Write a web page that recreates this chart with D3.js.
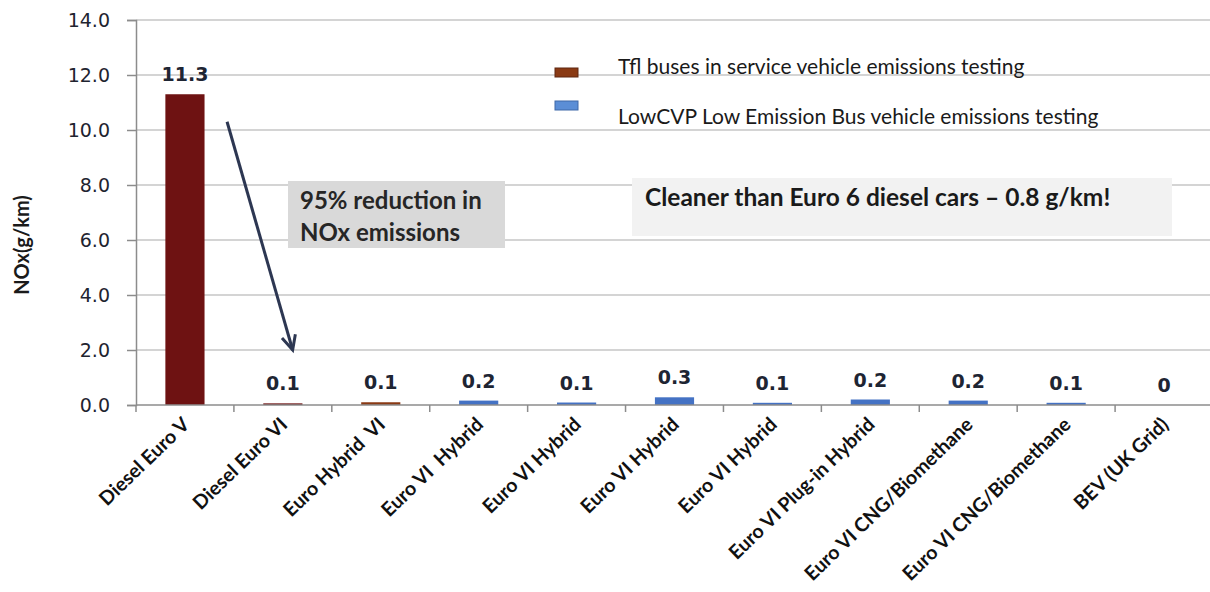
<!DOCTYPE html>
<html>
<head>
<meta charset="utf-8">
<script src="https://cdn.jsdelivr.net/npm/d3@7"></script>
<style>
  body { margin: 0; background: #fff; }
  svg { display: block; }
</style>
</head>
<body>
<div id="chart"></div>
<script>
// chart data
const categories = ['Diesel Euro V', 'Diesel Euro VI', 'Euro Hybrid  VI', 'Euro VI  Hybrid', 'Euro VI Hybrid',
    'Euro VI Hybrid', 'Euro VI Hybrid', 'Euro VI Plug-in Hybrid', 'Euro VI CNG/Biomethane',
    'Euro VI CNG/Biomethane', 'BEV (UK Grid)'];
const noxValues = [11.3, 0.06, 0.1, 0.16, 0.09, 0.28, 0.08, 0.2, 0.16, 0.08, 0];
const testSource = ['TfL', 'TfL', 'TfL', 'LowCVP', 'LowCVP', 'LowCVP', 'LowCVP', 'LowCVP', 'LowCVP', 'LowCVP', 'LowCVP'];
const yTicks = [0, 2, 4, 6, 8, 10, 12, 14];
const legendItems = ['Tfl buses in service vehicle emissions testing', 'LowCVP Low Emission Bus vehicle emissions testing'];
const reductionNote = ['95% reduction in', 'NOx emissions'];
const carNote = 'Cleaner than Euro 6 diesel cars \u2013 0.8 g/km!';

(function() {
    'use strict';

    const width = 1210, height = 592;
    const left = 136, right = 1213, top = 20, bottom = 405;
    const sans = 'Lato, "Open Sans", sans-serif';
    const verdana = '"DejaVu Sans", Verdana, sans-serif';

    const data = categories.map((c, i) => ({ key: i, name: c, value: noxValues[i], source: testSource[i] }));

    const x = d3.scaleBand().domain(data.map(d => d.key)).range([left, right]).paddingInner(0.6).paddingOuter(0.3);
    const band = d3.scaleBand().domain(data.map(d => d.key)).range([left, right]);
    const y = d3.scaleLinear().domain([0, 14]).range([bottom, top]);

    const fill = d => {
        if (d.source === 'LowCVP') return '#4472c4';
        return d.name.startsWith('Diesel') ? '#6e1212' : '#8a3a14';
    };

    const svg = d3.select('#chart').append('svg')
        .attr('width', width)
        .attr('height', height);

    // gridlines
    svg.append('g').selectAll('line').data(yTicks.filter(t => t > 0)).enter().append('line')
        .attr('x1', left)
        .attr('x2', width)
        .attr('y1', d => y(d))
        .attr('y2', d => y(d))
        .attr('stroke', '#c6c6c6')
        .attr('stroke-width', 1.5);

    // y axis
    const yAxis = svg.append('g')
        .attr('transform', `translate(${left},0)`)
        .call(d3.axisLeft(y).tickValues(yTicks).tickFormat(d3.format('.1f')).tickSize(9).tickPadding(17));
    yAxis.select('.domain').attr('stroke', '#8c8c8c').attr('stroke-width', 1.5);
    yAxis.selectAll('.tick line').attr('stroke', '#8c8c8c').attr('stroke-width', 1.5);
    yAxis.selectAll('.tick text')
        .style('font-family', verdana)
        .style('font-size', '19px')
        .style('fill', '#1f2430');

    svg.append('text')
        .attr('transform', `translate(29,245) rotate(-90)`)
        .attr('text-anchor', 'middle')
        .text('NOx(g/km)')
        .style('font-family', sans)
        .style('font-weight', 'bold')
        .style('font-size', '20px')
        .style('fill', '#1a1a1a');

    // bars
    svg.append('g').selectAll('rect').data(data).enter().append('rect')
        .attr('x', d => x(d.key))
        .attr('width', x.bandwidth())
        .attr('y', d => y(d.value))
        .attr('height', d => y(0) - y(d.value))
        .attr('fill', fill);

    // value labels
    const fmt = v => v === 0 ? '0' : d3.format('.1f')(v);
    svg.append('g').selectAll('text').data(data).enter().append('text')
        .attr('x', d => x(d.key) + x.bandwidth() / 2)
        .attr('y', d => y(d.value) - 13)
        .attr('text-anchor', 'middle')
        .text(d => fmt(d.value))
        .style('font-family', verdana)
        .style('font-weight', 'bold')
        .style('font-size', '19px')
        .style('fill', '#1e2533');

    // x axis
    svg.append('line')
        .attr('x1', left).attr('x2', width)
        .attr('y1', bottom).attr('y2', bottom)
        .attr('stroke', '#8c8c8c').attr('stroke-width', 1.5);
    svg.append('g').selectAll('line').data(data).enter().append('line')
        .attr('x1', d => band(d.key)).attr('x2', d => band(d.key))
        .attr('y1', bottom).attr('y2', bottom + 7)
        .attr('stroke', '#8c8c8c').attr('stroke-width', 1.5);
    svg.append('g').selectAll('text').data(data).enter().append('text')
        .attr('transform', d => `translate(${band(d.key) + band.bandwidth() / 2 + 1},421) rotate(-44)`)
        .attr('text-anchor', 'end')
        .attr('dy', '0.35em')
        .text(d => d.name)
        .style('font-family', sans)
        .style('font-weight', 'bold')
        .style('font-size', '19.5px')
        .style('white-space', 'pre')
        .style('fill', '#111');

    // legend
    const legendColors = ['#8a3a14', '#5b8ed6'];
    const legendStroke = ['#5e2710', '#3f68a8'];
    const legend = svg.append('g').selectAll('g').data(legendItems).enter().append('g')
        .attr('transform', (d, i) => `translate(555,${68 + i * 33})`);
    legend.append('rect')
        .attr('width', 23)
        .attr('height', 9)
        .attr('fill', (d, i) => legendColors[i])
        .attr('stroke', (d, i) => legendStroke[i])
        .attr('stroke-width', 1);
    legend.append('text')
        .attr('x', 63)
        .attr('y', (d, i) => i === 0 ? 5.5 : 22.5)
        .text(d => d)
        .style('font-family', sans)
        .style('font-size', '21px')
        .style('fill', '#1a1a1a');

    // annotations
    const note1 = svg.append('g');
    note1.append('rect')
        .attr('x', 288).attr('y', 181).attr('width', 217).attr('height', 67)
        .attr('fill', '#d9d9d9');
    note1.selectAll('text').data(reductionNote).enter().append('text')
        .attr('x', 300)
        .attr('y', (d, i) => 209 + i * 32)
        .text(d => d)
        .style('font-family', sans)
        .style('font-weight', 'bold')
        .style('font-size', '24px')
        .style('fill', '#262626');

    const note2 = svg.append('g');
    note2.append('rect')
        .attr('x', 632).attr('y', 178).attr('width', 540).attr('height', 58)
        .attr('fill', '#f2f2f2');
    note2.append('text')
        .attr('x', 645)
        .attr('y', 206)
        .text(carNote)
        .style('font-family', sans)
        .style('font-weight', 'bold')
        .style('font-size', '24.5px')
        .style('fill', '#1a1a1a');

    // arrow from Euro V to Euro VI
    const ax1 = band(0) + band.bandwidth() * 0.93, ay1 = y(10.3);
    const ax2 = band(1) + band.bandwidth() * 0.6, ay2 = y(2);
    const ang = Math.atan2(ay2 - ay1, ax2 - ax1);
    const head = 16, spread = 0.45;
    svg.append('line')
        .attr('x1', ax1).attr('y1', ay1).attr('x2', ax2).attr('y2', ay2)
        .attr('stroke', '#2d3752').attr('stroke-width', 3);
    svg.append('path')
        .attr('d', `M${ax2 - head * Math.cos(ang - spread)},${ay2 - head * Math.sin(ang - spread)}` +
            `L${ax2},${ay2}L${ax2 - head * Math.cos(ang + spread)},${ay2 - head * Math.sin(ang + spread)}`)
        .attr('fill', 'none')
        .attr('stroke', '#2d3752')
        .attr('stroke-width', 3);
}());
</script>
</body>
</html>
